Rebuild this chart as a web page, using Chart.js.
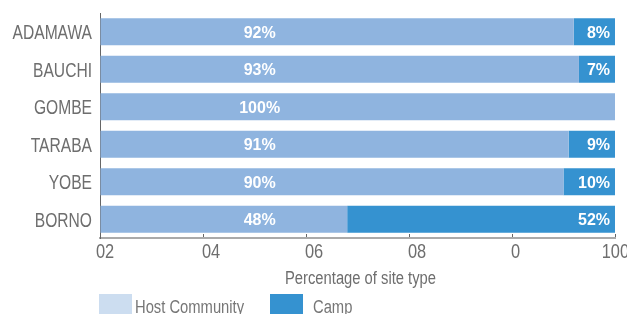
<!DOCTYPE html>
<html>
<head>
<meta charset="utf-8">
<script src="https://cdn.jsdelivr.net/npm/chart.js@4.4.1/dist/chart.umd.min.js"></script>
<style>
  html, body { margin: 0; padding: 0; background: #fff; overflow: hidden; }
</style>
</head>
<body>
<canvas id="chart" width="627" height="314"></canvas>
<script>
// data
const states = ['ADAMAWA', 'BAUCHI', 'GOMBE', 'TARABA', 'YOBE', 'BORNO'];
const hostCommunity = [92, 93, 100, 91, 90, 48];
const camp = [8, 7, 0, 9, 10, 52];
const seriesNames = ['Host Community', 'Camp'];
const xTickValues = [0, 20, 40, 60, 80, 100];
const xTickLabels = ['02', '04', '06', '08', '0', '100'];
const xTitle = 'Percentage of site type';

const hostColor = 'rgb(143,180,223)';
const campColor = 'rgb(53,146,208)';
const hostLegendColor = 'rgb(204,221,240)';
const textGray = '#6e6e6e';

// no condensed font installed, so squeeze Liberation Sans by hand
function narrowText(ctx, text, x, y, align, size, squeeze) {
    ctx.save();
    ctx.translate(x, y);
    ctx.scale(squeeze, 1);
    ctx.font = size + "px 'Liberation Sans', Arial, sans-serif";
    ctx.textAlign = align;
    ctx.textBaseline = 'alphabetic';
    ctx.fillText(text, 0, 0);
    ctx.restore();
}

// white percentage labels inside the bars
const barLabels = {
    id: 'barLabels',
    afterDatasetsDraw(chart) {
        const ctx = chart.ctx;
        const xs = chart.scales.x;
        ctx.save();
        ctx.fillStyle = '#fff';
        ctx.font = "bold 16px 'Liberation Sans', Arial, sans-serif";
        ctx.textBaseline = 'alphabetic';
        chart.getDatasetMeta(0).data.forEach((el, i) => {
            if (!hostCommunity[i]) return;
            ctx.textAlign = 'center';
            ctx.fillText(hostCommunity[i] + '%', xs.getPixelForValue(31), el.y + 6);
        });
        chart.getDatasetMeta(1).data.forEach((el, i) => {
            if (!camp[i]) return;
            ctx.textAlign = 'right';
            ctx.fillText(camp[i] + '%', el.x - 5, el.y + 6);
        });
        ctx.restore();
    }
};

// axis labels, title and legend
const extras = {
    id: 'extras',
    afterDraw(chart) {
        const ctx = chart.ctx;
        const xs = chart.scales.x;
        const ys = chart.scales.y;
        ctx.save();
        ctx.fillStyle = textGray;

        states.forEach((s, i) => {
            narrowText(ctx, s, ys.right - 8, ys.getPixelForValue(i) + 7.5, 'right', 20, 0.78);
        });

        xTickLabels.forEach((lab, i) => {
            const px = xs.getPixelForValue(xTickValues[i]);
            if (i === xTickLabels.length - 1) {
                narrowText(ctx, lab, chart.width + 2, 258, 'right', 20, 0.82);
            } else {
                narrowText(ctx, lab, px - (i === 0 ? 4 : 1), 258, 'left', 20, 0.82);
            }
        });

        narrowText(ctx, xTitle, (xs.left + xs.right) / 2 + 3, 284, 'center', 18, 0.82);

        // legend
        const boxes = [hostLegendColor, campColor];
        const boxX = [99, 270];
        const textX = [135, 313];
        seriesNames.forEach((name, i) => {
            ctx.fillStyle = boxes[i];
            ctx.fillRect(boxX[i], 294, 33, 22);
            ctx.fillStyle = '#767676';
            narrowText(ctx, name, textX[i], 313, 'left', 18, 0.82);
        });
        ctx.restore();
    }
};

const ctx = document.getElementById('chart').getContext('2d');
const siteChart = new Chart(ctx, {
    type: 'bar',
    data: {
        labels: states,
        datasets: [
            {
                label: seriesNames[0],
                data: hostCommunity,
                backgroundColor: hostColor,
                borderWidth: 0,
                barPercentage: 0.72,
                categoryPercentage: 1
            },
            {
                label: seriesNames[1],
                data: camp,
                backgroundColor: campColor,
                borderWidth: 0,
                barPercentage: 0.72,
                categoryPercentage: 1
            }
        ]
    },
    options: {
        indexAxis: 'y',
        responsive: false,
        animation: false,
        devicePixelRatio: 1,
        layout: { padding: { top: 13, right: 12, left: 0, bottom: 0 } },
        plugins: {
            legend: { display: false },
            tooltip: { enabled: false }
        },
        scales: {
            x: {
                stacked: true,
                min: 0,
                max: 100,
                ticks: { stepSize: 20, display: false },
                grid: { drawOnChartArea: false, tickLength: -4, color: '#666' },
                border: { color: '#aaa', width: 2 },
                afterFit(scale) { scale.height = 76; }
            },
            y: {
                stacked: true,
                grid: { display: false },
                border: { color: '#666', width: 1 },
                ticks: { display: false },
                afterFit(scale) { scale.width = 100; }
            }
        }
    },
    plugins: [barLabels, extras]
});
</script>
</body>
</html>
